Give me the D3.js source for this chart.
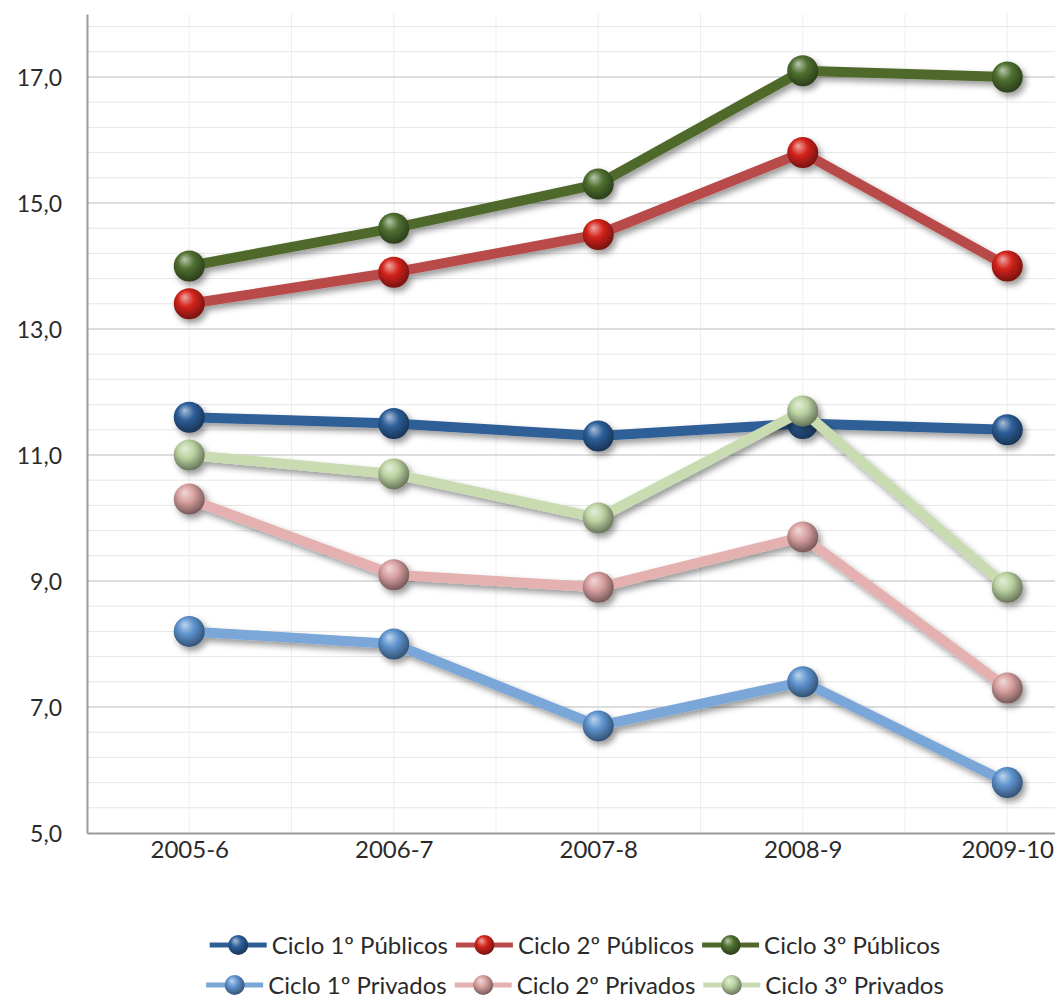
<!DOCTYPE html>
<html>
<head>
<meta charset="utf-8">
<script src="https://cdn.jsdelivr.net/npm/d3@7"></script>
<style>
  body { margin: 0; background: #fff; }
  svg text { font-family: Lato, "Open Sans", sans-serif; fill: #2a2a2a; }
</style>
</head>
<body>
<div id="chart"></div>
<script>
// chart data
var years = ["2005-6", "2006-7", "2007-8", "2008-9", "2009-10"];
var seriesNames = ["Ciclo 1º Públicos", "Ciclo 2º Públicos", "Ciclo 3º Públicos",
                   "Ciclo 1º Privados", "Ciclo 2º Privados", "Ciclo 3º Privados"];
var ciclo1Publicos = [11.6, 11.5, 11.3, 11.5, 11.4];
var ciclo2Publicos = [13.4, 13.9, 14.5, 15.8, 14.0];
var ciclo3Publicos = [14.0, 14.6, 15.3, 17.1, 17.0];
var ciclo1Privados = [8.2, 8.0, 6.7, 7.4, 5.8];
var ciclo2Privados = [10.3, 9.1, 8.9, 9.7, 7.3];
var ciclo3Privados = [11.0, 10.7, 10.0, 11.7, 8.9];
var yTicks = [5, 7, 9, 11, 13, 15, 17];

var allSeries = [ciclo1Publicos, ciclo2Publicos, ciclo3Publicos,
                 ciclo1Privados, ciclo2Privados, ciclo3Privados];

// line colour / sphere colour for each series
var lineColors = ["#2f5e97", "#b84b49", "#50692b", "#7aa6d8", "#e4b1b0", "#c9dcb1"];
var ballColors = ["#2d5f9a", "#d4231b", "#4f7030", "#5e93cf", "#d9a0a0", "#bcd3a2"];

var svgWidth = 1055;
var svgHeight = 1006;

var margin = { top: 14, left: 87 };
var plotRight = 1109.5;   // plot runs past the picture's right edge
var plotBottom = 833;

var svg = d3.select("#chart")
  .append("svg")
  .attr("width", svgWidth)
  .attr("height", svgHeight);

var defs = svg.append("defs");

// soft shadow for lines and balls
var shadow = defs.append("filter")
  .attr("id", "shadow")
  .attr("x", "-30%").attr("y", "-30%")
  .attr("width", "160%").attr("height", "160%");
shadow.append("feDropShadow")
  .attr("dx", 3).attr("dy", 4)
  .attr("stdDeviation", 3)
  .attr("flood-color", "#000")
  .attr("flood-opacity", 0.4);

// glossy ball gradients
ballColors.forEach(function(c, i) {
  var g = defs.append("radialGradient")
    .attr("id", "ball" + i)
    .attr("cx", "45%").attr("cy", "40%").attr("r", "60%")
    .attr("fx", "35%").attr("fy", "28%");
  g.append("stop").attr("offset", "0%").attr("stop-color", d3.interpolateRgb(c, "#fff")(0.6));
  g.append("stop").attr("offset", "45%").attr("stop-color", c);
  g.append("stop").attr("offset", "100%").attr("stop-color", d3.interpolateRgb(c, "#000")(0.45));
});

var x = d3.scalePoint()
  .domain(years)
  .range([margin.left, plotRight])
  .padding(0.5);

var band = d3.scaleBand()
  .domain(years)
  .range([margin.left, plotRight]);

var y = d3.scaleLinear()
  .domain([5, 18])
  .range([plotBottom, margin.top]);

var locale = d3.formatLocale({ decimal: ",", thousands: ".", grouping: [3], currency: ["", "€"] });
var fmt = locale.format(".1f");

var grid = svg.append("g");

// vertical gridlines at category edges and centres
var vLines = [];
years.forEach(function(d) {
  vLines.push(band(d));
  vLines.push(band(d) + band.bandwidth() / 2);
});
grid.selectAll(".vgrid")
  .data(vLines.slice(1))
  .enter()
  .append("line")
  .attr("x1", d => d).attr("x2", d => d)
  .attr("y1", margin.top).attr("y2", plotBottom)
  .attr("stroke", "#eeeeee")
  .attr("stroke-width", 1);

// minor horizontal gridlines every 0.4
var minor = d3.range(1, 33).map(i => 5 + i * 0.4);
grid.selectAll(".hminor")
  .data(minor)
  .enter()
  .append("line")
  .attr("x1", margin.left).attr("x2", plotRight)
  .attr("y1", d => y(d)).attr("y2", d => y(d))
  .attr("stroke", "#e6e6e6")
  .attr("stroke-width", 1);

// major horizontal gridlines
grid.selectAll(".hmajor")
  .data(yTicks.slice(1))
  .enter()
  .append("line")
  .attr("x1", margin.left).attr("x2", plotRight)
  .attr("y1", d => y(d)).attr("y2", d => y(d))
  .attr("stroke", "#d6d6d6")
  .attr("stroke-width", 1.5);

// axes
var leftAxis = d3.axisLeft(y)
  .tickValues(yTicks)
  .tickFormat(fmt)
  .tickSize(0)
  .tickPadding(25);

var bottomAxis = d3.axisBottom(x)
  .tickSize(0)
  .tickPadding(8);

var yAxis = svg.append("g")
  .attr("transform", `translate(${margin.left},0)`)
  .call(leftAxis);

var xAxis = svg.append("g")
  .attr("transform", `translate(0,${plotBottom})`)
  .call(bottomAxis);

[yAxis, xAxis].forEach(function(a) {
  a.select(".domain").attr("stroke", "#9a9a9a").attr("stroke-width", 2);
  a.selectAll("text")
    .attr("font-family", "Lato, sans-serif")
    .attr("font-size", 23)
    .attr("fill", "#2a2a2a");
});
yAxis.selectAll("text").attr("dy", "0.36em");
xAxis.selectAll("text").attr("font-size", 24);

// series lines then balls, in series order
var line = d3.line()
  .x((d, i) => x(years[i]))
  .y(d => y(d));

var seriesG = svg.append("g");

allSeries.forEach(function(vals, s) {
  var g = seriesG.append("g").attr("filter", "url(#shadow)");

  g.append("path")
    .datum(vals)
    .attr("d", line)
    .attr("fill", "none")
    .attr("stroke", lineColors[s])
    .attr("stroke-width", 10)
    .attr("stroke-linejoin", "round");

  g.selectAll("circle")
    .data(vals)
    .enter()
    .append("circle")
    .attr("cx", (d, i) => x(years[i]))
    .attr("cy", d => y(d))
    .attr("r", 15.5)
    .attr("fill", "url(#ball" + s + ")");
});

// legend, two centred rows of three
var legend = svg.append("g");
var rows = [[0, 1, 2], [3, 4, 5]];
var rowY = [945, 985];
var legendCenter = 575;

rows.forEach(function(row, r) {
  var rowG = legend.append("g");
  var cx = 0;
  row.forEach(function(s) {
    var item = rowG.append("g").attr("transform", `translate(${cx},${rowY[r]})`);
    item.append("line")
      .attr("x1", 0).attr("x2", 57)
      .attr("y1", 0).attr("y2", 0)
      .attr("stroke", lineColors[s])
      .attr("stroke-width", 5);
    item.append("circle")
      .attr("cx", 28.5).attr("cy", 0)
      .attr("r", 10)
      .attr("fill", "url(#ball" + s + ")");
    var t = item.append("text")
      .attr("x", 62)
      .attr("y", 0)
      .attr("dy", "0.36em")
      .attr("font-size", 24)
      .text(seriesNames[s]);
    cx += 62 + t.node().getComputedTextLength() + 8;
  });
  var w = cx - 8;
  rowG.attr("transform", `translate(${legendCenter - w / 2},0)`);
});
</script>
</body>
</html>
